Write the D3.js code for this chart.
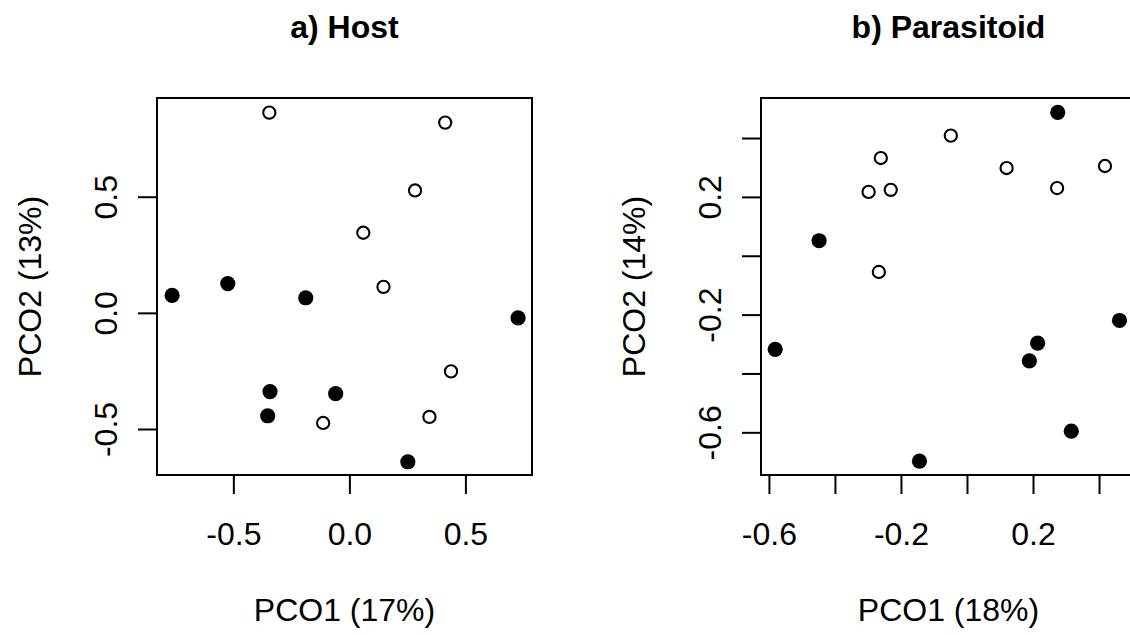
<!DOCTYPE html>
<html>
<head>
<meta charset="utf-8">
<script src="https://cdn.jsdelivr.net/npm/d3@7"></script>
<style>
  body { margin: 0; background: #fff; }
  text { font-family: "Liberation Sans", Arial, Helvetica, sans-serif; fill: #000; }
</style>
</head>
<body>
<script>

// a) Host ordination scores
var hostPco1 = [-0.345, 0.413, 0.283, 0.060, 0.147, 0.438, 0.345, -0.113,
                -0.764, -0.524, -0.188, 0.727, -0.342, -0.059, -0.352, 0.252];
var hostPco2 = [0.862, 0.819, 0.527, 0.345, 0.112, -0.252, -0.448, -0.474,
                0.075, 0.126, 0.065, -0.022, -0.339, -0.348, -0.443, -0.641];
var hostFilled = [0, 0, 0, 0, 0, 0, 0, 0, 1, 1, 1, 1, 1, 1, 1, 1];

// b) Parasitoid ordination scores
var paraPco1 = [-0.049, -0.261, -0.298, -0.231, 0.120, 0.273, 0.418, -0.267,
                0.275, -0.448, -0.581, 0.462, 0.214, 0.189, 0.316, -0.144];
var paraPco2 = [0.408, 0.332, 0.217, 0.224, 0.298, 0.230, 0.305, -0.055,
                0.487, 0.051, -0.318, -0.220, -0.297, -0.357, -0.596, -0.698];
var paraFilled = [0, 0, 0, 0, 0, 0, 0, 0, 1, 1, 1, 1, 1, 1, 1, 1];

// ticks and the labels R kept
var hostXTicks = [-0.5, 0, 0.5];
var hostXLabels = ["-0.5", "0.0", "0.5"];
var hostYTicks = [-0.5, 0, 0.5];
var hostYLabels = ["-0.5", "0.0", "0.5"];
var paraXTicks = [-0.6, -0.4, -0.2, 0, 0.2, 0.4];
var paraXLabels = ["-0.6", "", "-0.2", "", "0.2", ""];
var paraYTicks = [-0.6, -0.4, -0.2, 0, 0.2, 0.4];
var paraYLabels = ["-0.6", "", "-0.2", "", "0.2", ""];

var titles = ["a) Host", "b) Parasitoid"];
var xTitles = ["PCO1 (17%)", "PCO1 (18%)"];
var yTitles = ["PCO2 (13%)", "PCO2 (14%)"];

var W = 1130, H = 635;
var fontSize = 32;

var svg = d3.select("body").append("svg")
    .attr("width", W)
    .attr("height", H);

function drawPanel(p) {
    var x = d3.scaleLinear().domain(p.xDomain).range([p.left, p.left + 375]);
    var y = d3.scaleLinear().domain(p.yDomain).range([p.top + 377, p.top]);
    var g = svg.append("g");

    // x axis
    var xAxis = d3.axisBottom(x)
        .tickValues(p.xTicks)
        .tickSize(19)
        .tickFormat(function(d, i) { return p.xLabels[i]; });
    var gx = g.append("g")
        .attr("transform", "translate(0," + (p.top + 377) + ")")
        .call(xAxis);
    gx.select(".domain").remove();
    gx.selectAll("line").attr("stroke", "#000").attr("stroke-width", 2);
    gx.selectAll("text").attr("font-size", fontSize).attr("dy", null).attr("y", 70);

    // y axis, labels rotated like R's las=0
    var yAxis = d3.axisLeft(y)
        .tickValues(p.yTicks)
        .tickSize(19)
        .tickFormat(function(d, i) { return p.yLabels[i]; });
    var gy = g.append("g")
        .attr("transform", "translate(" + p.left + ",0)")
        .call(yAxis);
    gy.select(".domain").remove();
    gy.selectAll("line").attr("stroke", "#000").attr("stroke-width", 2);
    gy.selectAll("text")
        .attr("font-size", fontSize)
        .attr("x", null).attr("dy", null)
        .attr("text-anchor", "middle")
        .attr("transform", "translate(-40,0) rotate(-90)");

    // box
    g.append("rect")
        .attr("x", p.left).attr("y", p.top)
        .attr("width", 375).attr("height", 377)
        .attr("fill", "none").attr("stroke", "#000").attr("stroke-width", 2);

    // points: open = pch 1, filled = pch 19
    g.selectAll("circle.pt")
        .data(p.px.map(function(v, i) { return {x: v, y: p.py[i], f: p.filled[i]}; }))
        .enter().append("circle")
        .attr("class", "pt")
        .attr("cx", function(d) { return x(d.x); })
        .attr("cy", function(d) { return y(d.y); })
        .attr("r", function(d) { return d.f ? 7.6 : 6.1; })
        .attr("fill", function(d) { return d.f ? "#000" : "#fff"; })
        .attr("stroke", "#000")
        .attr("stroke-width", function(d) { return d.f ? 0 : 2.1; });

    var cx = p.left + 375 / 2;
    g.append("text")
        .attr("x", cx).attr("y", 38)
        .attr("text-anchor", "middle")
        .attr("font-size", fontSize).attr("font-weight", "bold")
        .text(p.title);
    g.append("text")
        .attr("x", cx).attr("y", 621)
        .attr("text-anchor", "middle")
        .attr("font-size", fontSize)
        .text(p.xTitle);
    g.append("text")
        .attr("transform", "translate(" + (p.left - 116) + "," + (p.top + 377 / 2) + ") rotate(-90)")
        .attr("text-anchor", "middle")
        .attr("font-size", fontSize)
        .text(p.yTitle);
}

drawPanel({
    left: 157, top: 98,
    xDomain: [-0.829, 0.787], yDomain: [-0.698, 0.925],
    xTicks: hostXTicks, xLabels: hostXLabels,
    yTicks: hostYTicks, yLabels: hostYLabels,
    px: hostPco1, py: hostPco2, filled: hostFilled,
    title: titles[0], xTitle: xTitles[0], yTitle: yTitles[0]
});

drawPanel({
    left: 761, top: 98,
    xDomain: [-0.624, 0.512], yDomain: [-0.745, 0.536],
    xTicks: paraXTicks, xLabels: paraXLabels,
    yTicks: paraYTicks, yLabels: paraYLabels,
    px: paraPco1, py: paraPco2, filled: paraFilled,
    title: titles[1], xTitle: xTitles[1], yTitle: yTitles[1]
});

</script>
</body>
</html>
